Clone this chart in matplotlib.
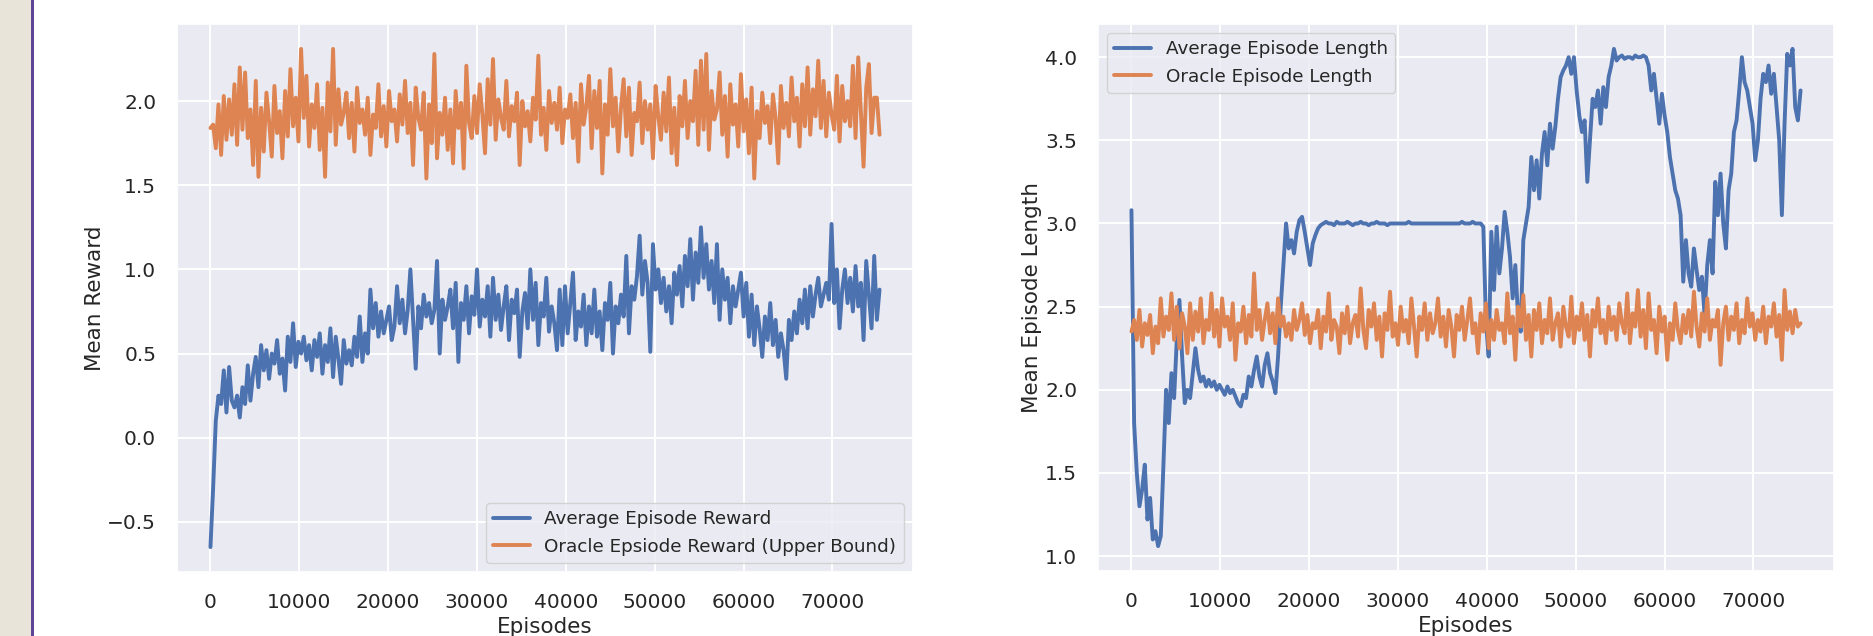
import numpy as np
import matplotlib
matplotlib.use("Agg")
import matplotlib.pyplot as plt
import seaborn as sns
from matplotlib.patches import Rectangle

# episodes are logged every 300 steps
episodes = np.arange(0, 75600, 300)

avg_reward = [
    -0.65, -0.30, 0.10, 0.25, 0.20, 0.40, 0.15, 0.42, 0.22, 0.18,
    0.25, 0.12, 0.30, 0.20, 0.43, 0.22, 0.38, 0.48, 0.30, 0.55,
    0.40, 0.52, 0.35, 0.50, 0.44, 0.58, 0.38, 0.47, 0.28, 0.60,
    0.45, 0.68, 0.42, 0.57, 0.50, 0.60, 0.46, 0.55, 0.40, 0.58,
    0.48, 0.62, 0.38, 0.55, 0.45, 0.65, 0.36, 0.60, 0.47, 0.32,
    0.58, 0.44, 0.52, 0.43, 0.60, 0.48, 0.72, 0.45, 0.62, 0.50,
    0.88, 0.65, 0.80, 0.60, 0.75, 0.62, 0.70, 0.78, 0.58, 0.66,
    0.90, 0.68, 0.82, 0.62, 0.76, 1.00, 0.70, 0.41, 0.78, 0.65,
    0.85, 0.72, 0.80, 0.68, 0.76, 1.05, 0.50, 0.82, 0.70, 0.78,
    0.88, 0.65, 0.92, 0.45, 0.80, 0.70, 0.90, 0.62, 0.84, 0.73,
    1.00, 0.66, 0.82, 0.72, 0.90, 0.60, 0.95, 0.70, 0.85, 0.64,
    0.78, 0.90, 0.58, 0.82, 0.74, 0.88, 0.48, 0.75, 0.86, 0.65,
    1.00, 0.70, 0.92, 0.55, 0.80, 0.72, 0.95, 0.63, 0.78, 0.68,
    0.52, 0.88, 0.55, 0.90, 0.62, 0.80, 0.98, 0.58, 0.75, 0.66,
    0.85, 0.55, 0.78, 0.62, 0.88, 0.60, 0.75, 0.52, 0.80, 0.70,
    0.92, 0.50, 0.78, 0.68, 0.85, 0.72, 1.08, 0.62, 0.90, 0.82,
    0.96, 1.20, 0.85, 1.05, 0.92, 0.51, 1.15, 0.88, 1.00, 0.80,
    0.95, 0.75, 0.90, 0.68, 0.98, 0.85, 1.02, 0.78, 1.08, 0.90,
    1.18, 0.82, 1.10, 0.92, 1.25, 0.95, 1.15, 0.88, 1.05, 0.80,
    1.15, 0.70, 1.00, 0.82, 0.95, 0.68, 0.90, 0.78, 0.88, 0.98,
    0.72, 0.92, 0.60, 0.85, 0.55, 0.78, 0.65, 0.48, 0.72, 0.58,
    0.80, 0.55, 0.70, 0.48, 0.62, 0.52, 0.35, 0.70, 0.58, 0.75,
    0.62, 0.82, 0.68, 0.88, 0.65, 0.90, 0.72, 0.85, 0.95, 0.78,
    0.85, 0.92, 0.82, 1.27, 0.80, 1.00, 0.65, 0.88, 1.00, 0.80,
    0.95, 0.75, 1.02, 0.78, 0.92, 0.58, 1.05, 0.85, 0.65, 1.08,
    0.70, 0.88,
]

oracle_reward = [
    1.84, 1.86, 1.72, 1.98, 1.68, 2.03, 1.77, 2.01, 1.80, 2.10,
    1.74, 2.20, 1.83, 2.17, 1.78, 1.95, 1.62, 2.12, 1.55, 1.96,
    1.70, 2.05, 1.88, 1.67, 2.09, 1.81, 1.94, 1.66, 2.06, 1.79,
    2.19, 1.85, 2.02, 1.76, 2.31, 1.90, 2.15, 1.73, 1.98, 1.84,
    2.10, 1.71, 1.96, 1.55, 2.11, 1.82, 2.31, 1.74, 2.07, 1.86,
    1.93, 2.05, 1.78, 1.99, 1.70, 2.08, 1.87, 1.95, 1.80, 2.02,
    1.68, 1.92, 1.84, 2.10, 1.79, 1.97, 1.73, 2.06, 1.88, 1.95,
    1.76, 2.04, 1.86, 2.12, 1.81, 1.99, 1.62, 2.08, 1.90, 1.83,
    2.05, 1.54, 1.98, 1.75, 2.28, 1.66, 1.93, 1.80, 2.02, 1.71,
    1.95, 1.63, 2.06, 1.84, 1.99, 1.60, 2.21, 1.87, 1.78, 2.03,
    1.81, 2.10, 1.92, 1.69, 2.13, 1.86, 2.25, 1.77, 2.01, 1.90,
    1.83, 2.12, 1.79, 1.97, 1.88, 2.05, 1.62, 2.00, 1.85, 1.94,
    1.76, 2.02, 1.89, 2.27, 1.80, 1.96, 1.71, 2.06, 1.87, 1.99,
    1.83, 2.08, 1.75, 1.95, 1.90, 2.04, 1.78, 1.99, 1.64, 2.10,
    1.86, 1.97, 2.15, 1.72, 2.06, 1.84, 2.12, 1.57, 1.98, 1.80,
    2.19, 1.85, 2.02, 1.70, 1.96, 2.13, 1.79, 2.08, 1.68, 1.93,
    1.88, 2.11, 1.75, 2.00, 1.83, 1.98, 1.66, 2.09, 1.91, 1.77,
    2.05, 1.82, 2.14, 1.69, 1.96, 1.62, 2.03, 1.85, 2.12, 1.78,
    2.00, 1.88, 2.18, 1.74, 2.24, 1.83, 2.28, 1.71, 2.06, 1.89,
    1.95, 2.17, 1.80, 2.03, 1.67, 2.10, 1.86, 1.98, 1.73, 2.16,
    1.82, 2.01, 1.69, 2.08, 1.54, 1.94, 1.78, 2.05, 1.87, 1.97,
    1.75, 2.04, 1.90, 1.63, 2.09, 1.84, 1.99, 1.79, 2.14, 1.88,
    2.02, 1.73, 2.10, 1.85, 2.20, 1.80, 2.07, 1.91, 2.24, 1.84,
    2.12, 1.79, 2.05, 1.92, 1.83, 2.15, 1.76, 2.09, 1.88, 2.00,
    1.85, 2.21, 1.78, 2.26, 1.93, 1.61, 2.08, 2.22, 1.81, 2.02,
    2.02, 1.80,
]

avg_length = [
    3.08, 1.80, 1.50, 1.30, 1.40, 1.55, 1.22, 1.35, 1.10, 1.15,
    1.06, 1.12, 1.55, 2.00, 1.80, 2.10, 1.95, 2.30, 2.54, 2.20,
    1.92, 2.00, 1.95, 2.10, 2.25, 2.12, 2.05, 2.08, 2.02, 2.06,
    2.02, 2.05, 2.00, 2.03, 2.00, 1.97, 2.02, 1.98, 2.00, 1.96,
    1.92, 1.90, 1.97, 1.95, 2.08, 2.02, 2.12, 2.20, 2.08, 2.02,
    2.15, 2.22, 2.10, 2.05, 1.98, 2.20, 2.50, 2.75, 3.00, 2.85,
    2.90, 2.82, 2.95, 3.02, 3.04, 2.95, 2.85, 2.75, 2.88, 2.93,
    2.97, 2.99, 3.00, 3.01, 3.00, 3.00, 2.99, 3.01, 3.00, 3.00,
    3.00, 3.01, 3.00, 2.99, 3.00, 3.00, 3.01, 3.00, 3.00, 2.99,
    3.00, 3.00, 3.01, 3.00, 3.00, 3.00, 2.99, 3.00, 3.00, 3.00,
    3.00, 3.00, 3.00, 3.00, 3.01, 3.00, 3.00, 3.00, 3.00, 3.00,
    3.00, 3.00, 3.00, 3.00, 3.00, 3.00, 3.00, 3.00, 3.00, 3.00,
    3.00, 3.00, 3.00, 3.00, 3.01, 3.00, 3.00, 3.00, 3.01, 3.00,
    3.00, 3.00, 2.98, 2.40, 2.20, 2.95, 2.60, 2.98, 2.70, 2.85,
    3.07, 2.95, 2.80, 2.55, 2.75, 2.45, 2.35, 2.90, 3.00, 3.10,
    3.40, 3.20, 3.38, 3.15, 3.42, 3.55, 3.35, 3.60, 3.45, 3.58,
    3.75, 3.88, 3.92, 3.95, 4.00, 3.90, 4.00, 3.80, 3.65, 3.55,
    3.62, 3.25, 3.50, 3.75, 3.70, 3.80, 3.60, 3.82, 3.70, 3.88,
    3.95, 4.05, 3.98, 4.00, 4.01, 3.99, 4.00, 4.00, 3.99, 4.01,
    4.00, 4.00, 4.01, 4.00, 3.95, 3.80, 3.90, 3.75, 3.60, 3.78,
    3.65, 3.55, 3.40, 3.30, 3.20, 3.15, 3.05, 2.65, 2.90, 2.70,
    2.62, 2.85, 2.72, 2.60, 2.68, 2.45, 2.75, 2.90, 2.70, 3.25,
    3.05, 3.30, 3.00, 2.85, 3.20, 3.30, 3.55, 3.62, 3.80, 4.00,
    3.85, 3.80, 3.70, 3.60, 3.38, 3.50, 3.75, 3.90, 3.85, 3.95,
    3.78, 3.90, 3.70, 3.50, 3.05, 3.60, 4.02, 3.95, 4.05, 3.70,
    3.62, 3.80,
]

oracle_length = [
    2.35, 2.42, 2.30, 2.48, 2.26, 2.40, 2.33, 2.45, 2.22, 2.38,
    2.28, 2.55, 2.32, 2.44, 2.36, 2.58, 2.30, 2.50, 2.25, 2.46,
    2.38, 2.22, 2.52, 2.30, 2.47, 2.35, 2.55, 2.28, 2.42, 2.36,
    2.58, 2.32, 2.48, 2.26, 2.55, 2.38, 2.44, 2.30, 2.52, 2.18,
    2.40, 2.35, 2.50, 2.28, 2.45, 2.32, 2.70, 2.36, 2.48, 2.30,
    2.42, 2.52, 2.34, 2.46, 2.28, 2.55, 2.38, 2.44, 2.32, 2.40,
    2.30, 2.48, 2.36, 2.42, 2.52, 2.33, 2.45, 2.28, 2.40, 2.37,
    2.48, 2.25, 2.44, 2.35, 2.58, 2.30, 2.42, 2.38, 2.22, 2.46,
    2.34, 2.50, 2.28, 2.40, 2.45, 2.32, 2.61, 2.36, 2.25, 2.48,
    2.38, 2.52, 2.30, 2.44, 2.20, 2.46, 2.36, 2.59, 2.32, 2.40,
    2.27, 2.50, 2.35, 2.42, 2.28, 2.55, 2.38, 2.20, 2.44, 2.36,
    2.52, 2.30, 2.46, 2.34, 2.40, 2.55, 2.32, 2.44, 2.26, 2.48,
    2.38, 2.20, 2.45, 2.36, 2.50, 2.30, 2.42, 2.55, 2.34, 2.40,
    2.22, 2.46, 2.35, 2.52, 2.25, 2.42, 2.30, 2.48, 2.36, 2.40,
    2.28, 2.58, 2.34, 2.44, 2.18, 2.50, 2.38, 2.57, 2.30, 2.45,
    2.20, 2.48, 2.36, 2.52, 2.28, 2.42, 2.34, 2.55, 2.30, 2.40,
    2.46, 2.26, 2.50, 2.38, 2.32, 2.56, 2.28, 2.44, 2.36, 2.52,
    2.30, 2.45, 2.20, 2.48, 2.38, 2.55, 2.34, 2.42, 2.28, 2.50,
    2.36, 2.44, 2.30, 2.52, 2.40, 2.34, 2.58, 2.28, 2.46, 2.38,
    2.60, 2.32, 2.48, 2.25, 2.58, 2.36, 2.42, 2.22, 2.50, 2.35,
    2.44, 2.18, 2.40, 2.30, 2.52, 2.36, 2.28, 2.45, 2.34, 2.48,
    2.32, 2.59, 2.38, 2.26, 2.46, 2.35, 2.55, 2.30, 2.42, 2.38,
    2.48, 2.15, 2.40, 2.50, 2.30, 2.44, 2.36, 2.52, 2.28, 2.42,
    2.34, 2.55, 2.38, 2.46, 2.30, 2.42, 2.35, 2.50, 2.28, 2.44,
    2.38, 2.52, 2.32, 2.45, 2.18, 2.60, 2.36, 2.47, 2.34, 2.48,
    2.38, 2.40,
]


def plot_training_curves(output_filename="out.png"):
    sns.set_theme(style="darkgrid")
    plt.rcParams.update({
        "font.family": ["DejaVu Sans"],
        "xtick.labelsize": 14.5,
        "ytick.labelsize": 14.5,
        "axes.labelsize": 15.5,
        "legend.fontsize": 13.2,
        "xtick.major.size": 0,
        "ytick.major.size": 0,
        "xtick.major.pad": 15,
        "ytick.major.pad": 15,
        "grid.linewidth": 1.4,
        "lines.linewidth": 2.8,
    })

    fig = plt.figure(figsize=(18.74, 6.36), dpi=100)
    W, H = 1874, 636

    # strip of the slide on the left side
    fig.patches.append(Rectangle((0, 0), 31 / W, 1, transform=fig.transFigure,
                                 facecolor="#e8e4da", edgecolor="none", zorder=0))
    fig.patches.append(Rectangle((31 / W, 0), 3 / W, 1, transform=fig.transFigure,
                                 facecolor="#5f4596", edgecolor="none", zorder=0))

    ax1 = fig.add_axes([177 / W, (H - 572) / H, (913 - 177) / W, (572 - 24) / H])
    ax2 = fig.add_axes([1098 / W, (H - 571) / H, (1834 - 1098) / W, (571 - 24) / H])

    # reward
    ax1.plot(episodes, avg_reward, label="Average Episode Reward")
    ax1.plot(episodes, oracle_reward, label="Oracle Epsiode Reward (Upper Bound)")
    ax1.set_xlabel("Episodes")
    ax1.set_ylabel("Mean Reward", labelpad=2)
    ax1.legend(loc="lower right")

    # episode length
    ax2.plot(episodes, avg_length, label="Average Episode Length")
    ax2.plot(episodes, oracle_length, label="Oracle Episode Length")
    ax2.set_xlabel("Episodes")
    ax2.set_ylabel("Mean Episode Length", labelpad=2)
    ax2.legend(loc="upper left")

    for ax in (ax1, ax2):
        ax.set_xticks(np.arange(0, 80000, 10000))

    fig.savefig(output_filename, dpi=100)


if __name__ == "__main__":
    plot_training_curves()
